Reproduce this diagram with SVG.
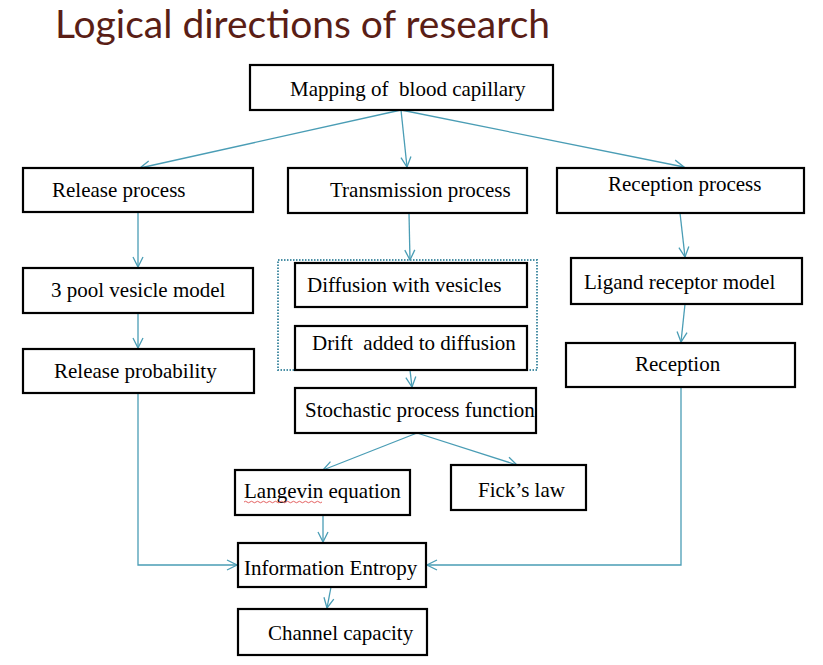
<svg xmlns="http://www.w3.org/2000/svg" width="823" height="665" viewBox="0 0 823 665">
<style>
.box{fill:#fff;stroke:#000;stroke-width:2.2}
.t{font-family:"Liberation Serif","Times New Roman",serif;font-size:21px;fill:#000}
.c{fill:none;stroke:#4a9db5;stroke-width:1.3}
.title{font-family:Lato,"Open Sans",sans-serif;font-size:38px;fill:#5a1e16}
</style>
<defs>
<marker id="ah" viewBox="0 0 12 12" refX="11" refY="6" markerWidth="12" markerHeight="12" markerUnits="userSpaceOnUse" orient="auto">
<path d="M1,1 L11,6 L1,11" fill="none" stroke="#4a9db5" stroke-width="1.3"/>
</marker>
</defs>
<rect width="823" height="665" fill="#fff"/>
<text class="title" x="55" y="38" textLength="495" lengthAdjust="spacingAndGlyphs">Logical directions of research</text>

<g id="connectors">
<path class="c" marker-end="url(#ah)" d="M401,110 L140,168"/>
<path class="c" marker-end="url(#ah)" d="M401,110 L407,167"/>
<path class="c" marker-end="url(#ah)" d="M401,110 L684,167"/>
<path class="c" marker-end="url(#ah)" d="M138,212 L138,267"/>
<path class="c" marker-end="url(#ah)" d="M138,313 L138,348"/>
<path class="c" marker-end="url(#ah)" d="M138,393 L138,565 L237,565"/>
<path class="c" marker-end="url(#ah)" d="M409,213 L410,260"/>
<path class="c" marker-end="url(#ah)" d="M410,370 L412,387"/>
<path class="c" marker-end="url(#ah)" d="M417,433 L323,470"/>
<path class="c" marker-end="url(#ah)" d="M417,433 L517,465"/>
<path class="c" marker-end="url(#ah)" d="M323,515 L323,542"/>
<path class="c" marker-end="url(#ah)" d="M681,387 L681,565 L427,565"/>
<path class="c" marker-end="url(#ah)" d="M331,587 L327,608"/>
<path class="c" marker-end="url(#ah)" d="M680,213 L685,257"/>
<path class="c" marker-end="url(#ah)" d="M685,304 L681,342"/>
</g>

<g id="group-dotted">
<rect x="278" y="260" width="259" height="110" fill="none" stroke="#4a8fa5" stroke-width="2" stroke-dasharray="1.5 1.5"/>
</g>

<g id="n-mapping"><rect class="box" x="250" y="65" width="303" height="45"/><text class="t" x="290" y="96" xml:space="preserve">Mapping of  blood capillary</text></g>
<g id="n-release"><rect class="box" x="23" y="168" width="230" height="44"/><text class="t" x="52" y="197">Release process</text></g>
<g id="n-transmission"><rect class="box" x="288" y="168" width="239" height="45"/><text class="t" x="330" y="197">Transmission process</text></g>
<g id="n-reception-process"><rect class="box" x="557" y="168" width="247" height="45"/><text class="t" x="608" y="191">Reception process</text></g>
<g id="n-3pool"><rect class="box" x="23" y="268" width="230" height="45"/><text class="t" x="51" y="297">3 pool vesicle model</text></g>
<g id="n-release-prob"><rect class="box" x="23" y="349" width="231" height="44"/><text class="t" x="54" y="378">Release probability</text></g>
<g id="n-diffusion"><rect class="box" x="295" y="263" width="232" height="44"/><text class="t" x="307" y="292">Diffusion with vesicles</text></g>
<g id="n-drift"><rect class="box" x="295" y="326" width="232" height="44"/><text class="t" x="312" y="350" xml:space="preserve">Drift  added to diffusion</text></g>
<g id="n-stochastic"><rect class="box" x="295" y="388" width="241" height="45"/><text class="t" x="305" y="417">Stochastic process function</text></g>
<g id="n-ligand"><rect class="box" x="571" y="258" width="231" height="46"/><text class="t" x="584" y="289">Ligand receptor model</text></g>
<g id="n-reception"><rect class="box" x="566" y="343" width="229" height="44"/><text class="t" x="635" y="371">Reception</text></g>
<g id="n-langevin"><rect class="box" x="235" y="470" width="175" height="45"/><text class="t" x="244" y="498">Langevin equation</text>
<path d="M244,502 q1.5,-1.5 3,0 t3,0 t3,0 t3,0 t3,0 t3,0 t3,0 t3,0 t3,0 t3,0 t3,0 t3,0 t3,0 t3,0 t3,0 t3,0 t3,0 t3,0 t3,0 t3,0 t3,0 t3,0 t3,0 t3,0 t3,0 t3,0" fill="none" stroke="#e05050" stroke-width="0.9"/></g>
<g id="n-fick"><rect class="box" x="451" y="465" width="135" height="45"/><text class="t" x="478" y="497">Fick’s law</text></g>
<g id="n-entropy"><rect class="box" x="238" y="543" width="188" height="44"/><text class="t" x="244" y="575">Information Entropy</text></g>
<g id="n-channel"><rect class="box" x="238" y="609" width="189" height="46"/><text class="t" x="268" y="640">Channel capacity</text></g>
</svg>
